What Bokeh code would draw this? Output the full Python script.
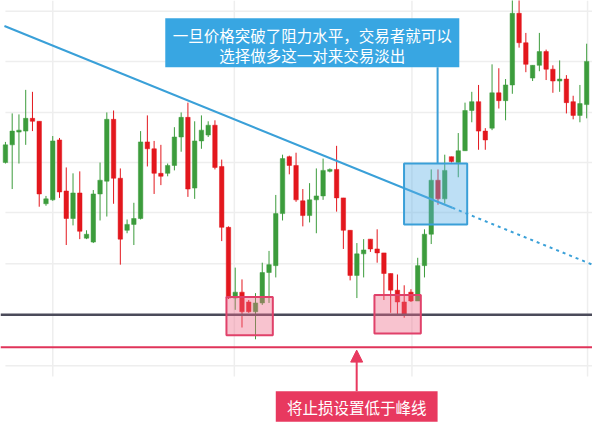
from bokeh.plotting import figure
from bokeh.models import Range1d, Arrow, NormalHead
from bokeh.core.properties import value
from bokeh.embed import file_html
from bokeh.resources import INLINE

# ---- data (price units) ----
open_ = [280, 298, 311, 312, 325, 322, 238, 242, 303, 251, 223, 249, 203, 199, 248, 261, 324, 264, 211, 217,
         223, 301, 294, 269, 269, 277, 306, 326, 254, 302, 308, 318, 276, 214, 142, 148, 138, 128, 137, 168,
         175, 228, 286, 277, 241, 226, 242, 246, 271, 273, 244, 211, 165, 187, 202, 192, 188, 167, 150, 138,
         148, 139, 175, 207, 262, 243, 286, 280, 292, 333, 342, 312, 315, 351, 343, 359, 432, 402, 366, 379,
         393, 375, 363, 365, 342, 328, 339]
high = [301, 330, 329, 354, 352, 322, 246, 307, 305, 275, 269, 271, 211, 252, 280, 331, 333, 274, 222, 239,
        312, 328, 302, 298, 279, 316, 331, 341, 322, 328, 322, 323, 283, 215, 173, 161, 140, 147, 178, 190,
        247, 288, 287, 290, 253, 259, 274, 284, 274, 297, 244, 211, 198, 202, 202, 212, 188, 167, 166, 155,
        151, 183, 212, 273, 273, 288, 286, 310, 341, 352, 359, 315, 380, 376, 365, 452, 452, 412, 379, 412,
        395, 379, 384, 369, 348, 359, 401]
low = [279, 253, 279, 298, 312, 235, 236, 241, 244, 196, 216, 202, 202, 198, 221, 225, 238, 176, 208, 196,
       222, 276, 248, 257, 266, 272, 291, 245, 243, 294, 306, 273, 200, 141, 130, 112, 127, 100, 135, 137,
       163, 221, 268, 240, 215, 219, 208, 242, 270, 230, 192, 160, 142, 163, 189, 178, 140, 127, 125, 122,
       138, 139, 163, 197, 237, 238, 280, 265, 292, 321, 293, 293, 313, 335, 323, 350, 397, 372, 363, 373,
       364, 351, 352, 330, 324, 321, 325]
close = [298, 312, 313, 325, 322, 248, 243, 302, 250, 223, 249, 210, 207, 248, 262, 324, 264, 202, 217, 223,
         301, 294, 269, 266, 277, 306, 326, 253, 302, 313, 318, 275, 214, 142, 148, 128, 128, 137, 168, 176,
         228, 284, 277, 242, 226, 242, 246, 272, 273, 244, 211, 165, 187, 191, 192, 188, 167, 150, 138, 125,
         139, 175, 207, 262, 243, 272, 281, 292, 333, 342, 312, 303, 351, 343, 359, 432, 402, 380, 379, 393,
         375, 363, 365, 341, 328, 340, 383]

callout_lines = ["一旦价格突破了阻力水平，交易者就可以", "选择做多这一对来交易淡出"]
stop_label = ["将止损设置低于峰线"]

UP = "#3c9c3c"
DOWN = "#e3171d"

# ---- helpers mapping reference pixel positions to data space ----
W, H = 592, 437
STEP, X0 = 6.85, 5.0


def X(px):
    return (px - X0) / STEP


def Y(py):
    return 445 - py


idx = list(range(len(open_)))
colors = [UP if c >= o else DOWN for o, c in zip(open_, close)]
tops = [max(o, c) for o, c in zip(open_, close)]
bots = [min(o, c) for o, c in zip(open_, close)]

p = figure(width=W, height=H, x_range=Range1d(X(0), X(600)), y_range=Range1d(Y(445), Y(0)),
           output_backend="svg", toolbar_location=None, min_border=0)
p.axis.visible = False
p.grid.visible = False
p.outline_line_color = None
p.background_fill_color = "white"
p.border_fill_color = "white"

# faint grid
grid_rows = [11, 62, 114, 165, 216, 268, 320, 372]
grid_cols = [53, 237, 417, 595]
p.segment(x0=[X(5)] * len(grid_rows), x1=[X(600)] * len(grid_rows),
          y0=[Y(r) for r in grid_rows], y1=[Y(r) for r in grid_rows],
          line_color="#eeeeee", line_width=1.5)
p.segment(x0=[X(c) for c in grid_cols], x1=[X(c) for c in grid_cols],
          y0=[Y(0)] * len(grid_cols), y1=[Y(383)] * len(grid_cols),
          line_color="#eeeeee", line_width=1.5)

# candles
p.segment(x0=idx, x1=idx, y0=high, y1=low, line_color=colors, line_width=1)
p.vbar(x=idx, width=0.66, top=tops, bottom=bots, fill_color=colors, line_color=colors, line_width=0.5)

# trend line (solid then dotted)
slope = 0.4077
p.line([X(4), X(458)], [Y(26), Y(26 + slope * 454)], line_color="#3aa0d8", line_width=2)
p.line([X(458), X(600)], [Y(26 + slope * 454), Y(26 + slope * 596)], line_color="#3aa0d8",
       line_width=2, line_dash="3 4")

# support / stop lines
p.line([X(0), X(600)], [Y(320), Y(320)], line_color="#4b4b5a", line_width=2.5)
p.line([X(0), X(600)], [Y(353), Y(353)], line_color="#e0345a", line_width=2)

# highlight boxes
p.quad(left=[X(229), X(379)], right=[X(276), X(426)], top=[Y(302), Y(300)], bottom=[Y(341), Y(339)],
       fill_color="#ee6a86", fill_alpha=0.4, line_color="#e0416a", line_width=2)
p.quad(left=[X(409)], right=[X(473)], top=[Y(166)], bottom=[Y(228)],
       fill_color="#5aaee6", fill_alpha=0.4, line_color="#3a9fd8", line_width=2)

# connector + callout
p.line([X(443), X(443)], [Y(166), Y(68)], line_color="#3a9fd8", line_width=2)
p.quad(left=[X(167)], right=[X(465)], top=[Y(18)], bottom=[Y(68)], fill_color="#38a6e2", line_color=None)
p.text(x=[X(316), X(316)], y=[Y(35), Y(55)], text=callout_lines, text_color="white",
       text_font=value("Noto Sans CJK SC"), text_font_size="15.5px", text_align="center",
       text_baseline="middle")

# stop-loss callout with arrow
p.quad(left=[X(279)], right=[X(443)], top=[Y(398)], bottom=[Y(429)], fill_color="#e8395f", line_color=None)
p.add_layout(Arrow(end=NormalHead(size=12, fill_color="#e8395f", line_color="#e8395f"),
                   x_start=X(361), y_start=Y(398), x_end=X(361), y_end=Y(356),
                   line_color="#e8395f", line_width=2))
p.text(x=[X(361)], y=[Y(414)], text=stop_label, text_color="white",
       text_font=value("Noto Sans CJK SC"), text_font_size="15.5px", text_align="center",
       text_baseline="middle")

open("out.html", "w").write(file_html(p, INLINE))
